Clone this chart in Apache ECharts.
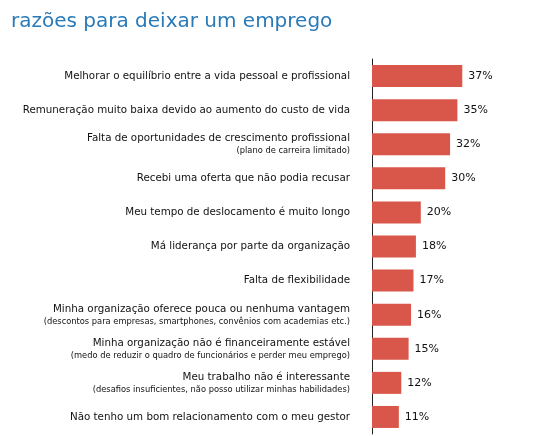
<!DOCTYPE html>
<html><head><meta charset="utf-8">
<script src="https://cdn.jsdelivr.net/npm/echarts@6/dist/echarts.min.js"></script>
<style>html,body{margin:0;padding:0;background:#fff}#c{width:539px;height:436px}</style>
</head><body><div id="c"></div>
<script>
const mainLabels = [
 "Melhorar o equilíbrio entre a vida pessoal e profissional",
 "Remuneração muito baixa devido ao aumento do custo de vida",
 "Falta de oportunidades de crescimento profissional",
 "Recebi uma oferta que não podia recusar",
 "Meu tempo de deslocamento é muito longo",
 "Má liderança por parte da organização",
 "Falta de flexibilidade",
 "Minha organização oferece pouca ou nenhuma vantagem",
 "Minha organização não é financeiramente estável",
 "Meu trabalho não é interessante",
 "Não tenho um bom relacionamento com o meu gestor"
];
const subLabels = ["","","(plano de carreira limitado)","","","","",
 "(descontos para empresas, smartphones, convênios com academias etc.)",
 "(medo de reduzir o quadro de funcionários e perder meu emprego)",
 "(desafios insuficientes, não posso utilizar minhas habilidades)",""];
const values = [37,35,32,30,20,18,17,16,15,12,11];
const cats = mainLabels.map((m,i)=>subLabels[i]?m+"\n"+subLabels[i]:m);
const chart = echarts.init(document.getElementById('c'));
chart.setOption({
 animation:false,
 title:{text:"razões para deixar um emprego",left:6,top:7,textStyle:{color:"#2a7ab8",fontSize:20,fontWeight:"normal",fontFamily:"DejaVu Sans"}},
 grid:{left:372,right:45,top:59,bottom:2,containLabel:false,outerBoundsMode:"none"},
 xAxis:{type:"value",min:0,max:50,show:false},
 yAxis:{type:"category",inverse:true,data:cats,
  axisLine:{show:true,lineStyle:{color:"#222",width:1}},axisTick:{show:false},
  axisLabel:{margin:22,align:"right",fontFamily:"DejaVu Sans",
   formatter:function(v){const p=v.split("\n");return p.length>1?"{a|"+p[0]+"}\n{b|"+p[1]+"}":"{a|"+p[0]+"}";},
   rich:{a:{fontSize:10.3,color:"#111",align:"right",lineHeight:14,fontFamily:"DejaVu Sans"},b:{fontSize:8.3,color:"#111",align:"right",lineHeight:11,fontFamily:"DejaVu Sans"}}}},
 series:[{type:"bar",data:values,barWidth:22,itemStyle:{color:"#d9574a"},
  label:{show:true,position:"right",formatter:"{c}%",color:"#111",fontSize:11,fontFamily:"DejaVu Sans",distance:6}}]
});
</script></body></html>
